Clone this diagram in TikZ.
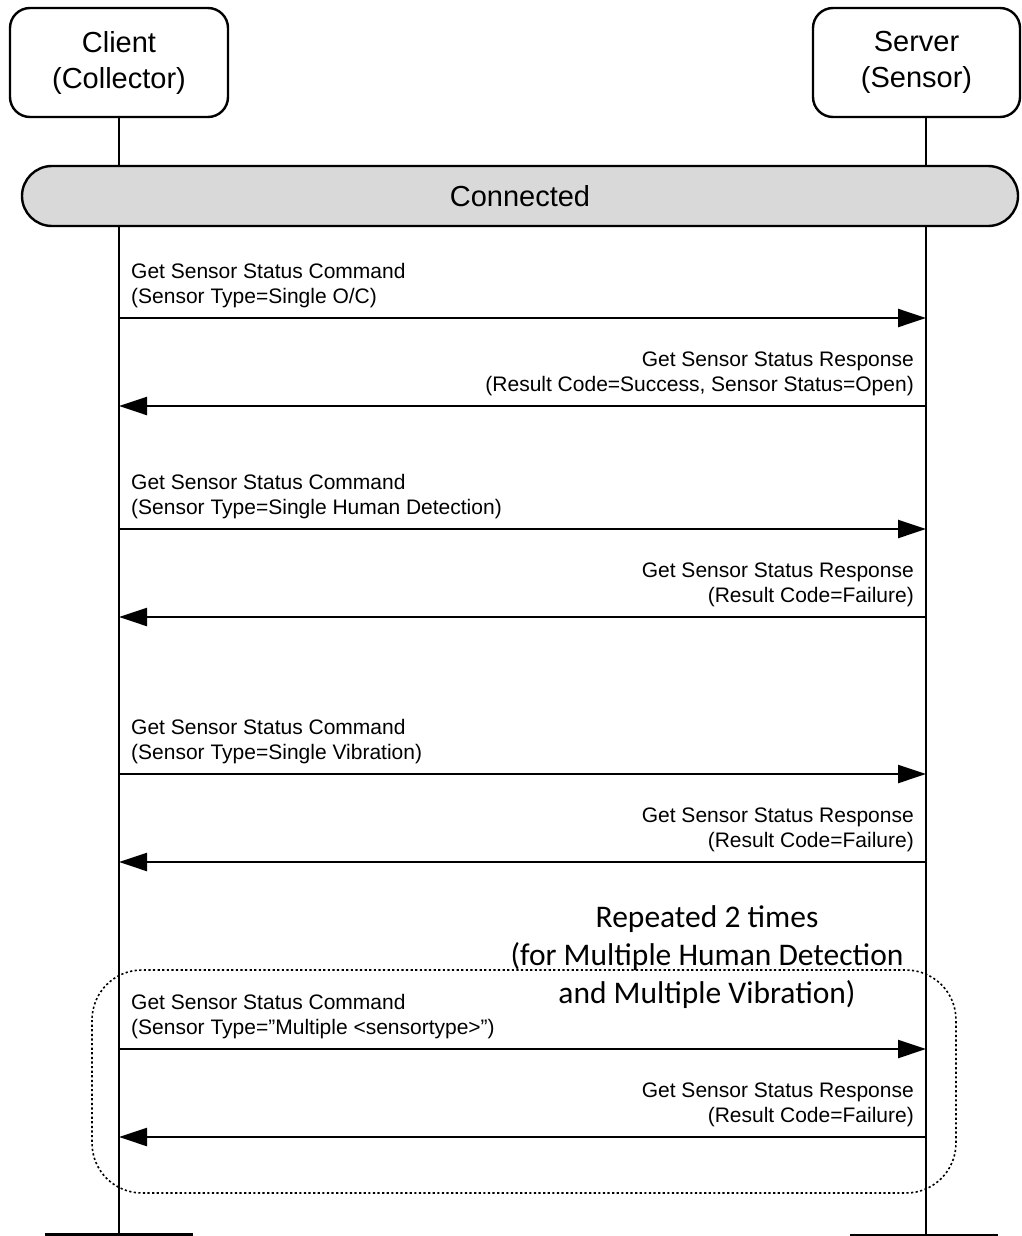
\documentclass[tikz,border=0pt]{standalone}
\usepackage{fontspec}
\setmainfont{Liberation Sans}
\newfontfamily\notefont{Carlito}
\usetikzlibrary{arrows.meta}
\definecolor{bargray}{HTML}{D9D9D9}
\begin{document}
\begin{tikzpicture}[x=1pt,y=-1pt,
  actor/.style={draw,line width=2.4pt,rounded corners=20pt,align=center,
    font=\fontsize{29}{36}\selectfont,inner sep=0pt},
  lifeline/.style={line width=2pt},
  msg/.style={line width=2.4pt,-{Triangle[length=28pt,width=18pt]}},
  lbl/.style={inner sep=0pt,font=\fontsize{21}{25}\selectfont},
  endbar/.style={line width=6pt},
  loopbox/.style={line width=1.6pt,dash pattern=on 2.2pt off 2.4pt,rounded corners=50pt},
  note/.style={align=center,inner sep=0pt,font=\notefont\fontsize{31.5}{38}\selectfont}]
\useasboundingbox (0,0) rectangle (1021,1236);
\clip (0,0) rectangle (1021,1236);

% actors
\node[actor,minimum width=218pt,minimum height=109pt] (client) at (119,62.5) {Client\\(Collector)};
\node[actor,minimum width=207pt,minimum height=109pt] (server) at (916.5,62.5) {Server\\(Sensor)};

% lifeline ends
\coordinate (cbot) at (119,1240);
\coordinate (sbot) at (926,1240);
\coordinate (stop) at (926,117);
\draw[lifeline] (client.south) -- (cbot);
\draw[lifeline] (stop) -- (sbot);

% end bars
\coordinate (cb1) at (45,1235.5);
\coordinate (cb2) at (193,1235.5);
\coordinate (sb1) at (850,1236.5);
\coordinate (sb2) at (998,1236.5);
\draw[endbar] (cb1) -- (cb2);
\draw[endbar] (sb1) -- (sb2);

% connected state
\node[draw,fill=bargray,line width=2.4pt,rounded corners=30pt,minimum width=996pt,minimum height=60pt,inner sep=0pt,
  font=\fontsize{29}{36}\selectfont] (conn) at (520,196) {Connected};

% messages
\foreach \i/\y in {1/318,2/406,3/529,4/617,5/774,6/862,7/1049,8/1137}{
  \coordinate (c\i) at (119,\y);
  \coordinate (s\i) at (926,\y);
}
\draw[msg] (c1) -- (s1);
\draw[msg] (s2) -- (c2);
\draw[msg] (c3) -- (s3);
\draw[msg] (s4) -- (c4);
\draw[msg] (c5) -- (s5);
\draw[msg] (s6) -- (c6);
\draw[msg] (c7) -- (s7);
\draw[msg] (s8) -- (c8);

\node[lbl,anchor=south west,align=left] (l1) at (131,308) {Get Sensor Status Command\\(Sensor Type=Single O/C)};
\node[lbl,anchor=south east,align=right] (l2) at (914,396) {Get Sensor Status Response\\(Result Code=Success, Sensor Status=Open)};
\node[lbl,anchor=south west,align=left] (l3) at (131,519) {Get Sensor Status Command\\(Sensor Type=Single Human Detection)};
\node[lbl,anchor=south east,align=right] (l4) at (914,607) {Get Sensor Status Response\\(Result Code=Failure)};
\node[lbl,anchor=south west,align=left] (l5) at (131,764) {Get Sensor Status Command\\(Sensor Type=Single Vibration)};
\node[lbl,anchor=south east,align=right] (l6) at (914,852) {Get Sensor Status Response\\(Result Code=Failure)};
\node[lbl,anchor=south west,align=left] (l7) at (131,1039) {Get Sensor Status Command\\(Sensor Type=”Multiple <sensortype>”)};
\node[lbl,anchor=south east,align=right] (l8) at (914,1127) {Get Sensor Status Response\\(Result Code=Failure)};

% repeated loop
\draw[loopbox] (92,970) rectangle (956,1193);
\node[note] (rep) at (707,957) {Repeated 2 times\\(for Multiple Human Detection\\and Multiple Vibration)};
\end{tikzpicture}
\end{document}
